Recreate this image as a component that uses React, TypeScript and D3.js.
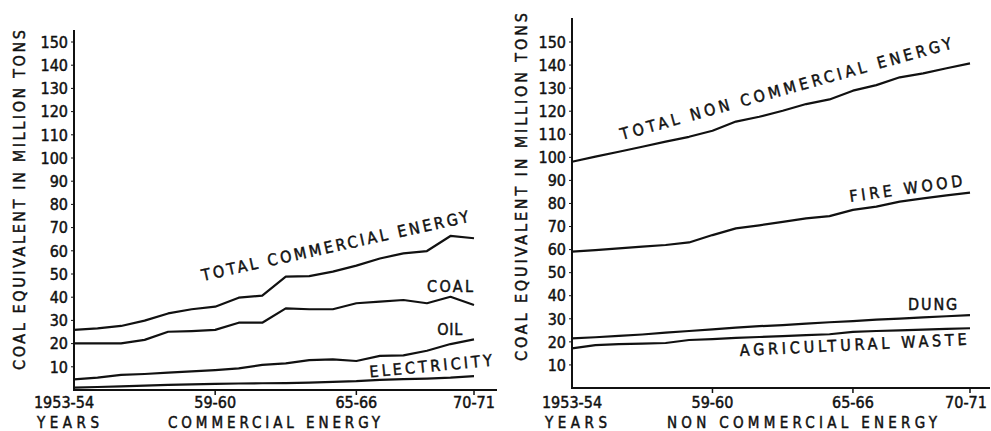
import * as d3 from "d3";
import React, { useRef, useEffect } from "react";

const years = [
    "1953-54", "1954-55", "1955-56", "1956-57", "1957-58", "1958-59",
    "1959-60", "1960-61", "1961-62", "1962-63", "1963-64", "1964-65",
    "1965-66", "1966-67", "1967-68", "1968-69", "1969-70", "1970-71",
];
const xTickIdx = [0, 6, 12, 17];
const xTickLabels = ["1953-54", "59-60", "65-66", "70-71"];
const yTicks = [10, 20, 30, 40, 50, 60, 70, 80, 90, 100, 110, 120, 130, 140, 150];

// commercial energy, million tons coal equivalent
const totalCommercial = [25.9, 26.6, 27.6, 29.9, 33.0, 34.8, 35.9, 39.8, 40.7, 48.9, 49.1, 51.0, 53.6, 56.7, 58.9, 59.9, 66.4, 65.4];
const coal = [20.1, 20.1, 20.1, 21.6, 25.1, 25.4, 25.9, 29.0, 29.0, 35.2, 34.8, 34.8, 37.4, 38.1, 38.8, 37.4, 40.2, 36.6];
const oil = [4.6, 5.3, 6.5, 6.9, 7.5, 8.0, 8.6, 9.3, 10.8, 11.5, 12.9, 13.2, 12.5, 14.7, 14.9, 16.9, 19.8, 21.8];
const electricity = [1.0, 1.3, 1.6, 1.9, 2.2, 2.4, 2.6, 2.8, 2.9, 3.0, 3.2, 3.5, 3.8, 4.4, 4.7, 4.9, 5.3, 6.0];

// non commercial energy
const totalNonCommercial = [98.1, 100.3, 102.4, 104.6, 106.8, 108.9, 111.5, 115.5, 117.6, 120.2, 123.1, 125.1, 128.9, 131.3, 134.7, 136.4, 138.6, 140.7];
const fireWood = [59.1, 59.8, 60.5, 61.3, 62.0, 63.1, 66.3, 69.2, 70.5, 72.0, 73.5, 74.5, 77.2, 78.6, 80.8, 82.2, 83.5, 84.7];
const dung = [21.5, 22.0, 22.6, 23.2, 24.0, 24.7, 25.4, 26.2, 26.8, 27.3, 27.9, 28.5, 29.0, 29.6, 30.1, 30.6, 31.1, 31.6];
const agriWaste = [17.2, 18.6, 19.0, 19.2, 19.5, 20.8, 21.2, 21.7, 22.1, 22.5, 22.9, 23.3, 24.3, 24.7, 25.0, 25.3, 25.6, 25.9];

const FONT = "'DejaVu Sans Condensed', 'DejaVu Sans', sans-serif";

const panels = [
    {
        left: 74, right: 474, bottom: 390, top150: 42, axisTop: 30, axisEnd: 497,
        tickDx: [-10, 0, 0, 0],
        series: [totalCommercial, coal, oil, electricity],
        labels: [
            { text: "TOTAL COMMERCIAL ENERGY", i: 5.48, v: 47, rot: -12.5, len: 273, anchor: "start" },
            { text: "COAL", i: 16.96, v: 42.2, rot: 0, len: 46, anchor: "end" },
            { text: "OIL", i: 16.5, v: 23.7, rot: 0, len: 25, anchor: "end" },
            { text: "ELECTRICITY", i: 12.58, v: 5.4, rot: -5.5, len: 123, anchor: "start" },
        ],
        titleX: 19, titleY: 200, titleLen: 340,
        yearsX: 68, subX: 274, subText: "COMMERCIAL ENERGY", subLen: 212,
    },
    {
        left: 572, right: 970, bottom: 388, top150: 42, axisTop: 18, axisEnd: 990,
        tickDx: [0, 0, 0, -4],
        series: [totalNonCommercial, fireWood, dung, agriWaste],
        labels: [
            { text: "TOTAL NON COMMERCIAL ENERGY", i: 2.14, v: 107.5, rot: -15.5, len: 343, anchor: "start" },
            { text: "FIRE WOOD", i: 11.88, v: 80.6, rot: -8, len: 114, anchor: "start" },
            { text: "DUNG", i: 16.45, v: 33.8, rot: 0, len: 49, anchor: "end" },
            { text: "AGRICULTURAL WASTE", i: 7.18, v: 13.9, rot: -2.8, len: 227, anchor: "start" },
        ],
        titleX: 521, titleY: 187, titleLen: 348,
        yearsX: 576, subX: 802, subText: "NON COMMERCIAL ENERGY", subLen: 270,
    },
];

function App() {
    const ref = useRef<SVGSVGElement>(null);

    useEffect(() => {
        const svg = d3.select(ref.current);
        svg.selectAll("*").remove();

        panels.forEach((p) => {
            const x = d3.scaleLinear().domain([0, years.length - 1]).range([p.left, p.right]);
            const y = d3.scaleLinear().domain([0, 150]).range([p.bottom, p.top150]);
            const g = svg
                .append("g")
                .style("font-family", FONT)
                .attr("fill", "#111");
            // slight stroke on the glyphs to get the heavier stencil look
            const txt = () =>
                g.append("text")
                    .attr("font-size", 16)
                    .attr("stroke", "#111")
                    .attr("stroke-width", 0.45);

            // axes
            g.append("line")
                .attr("x1", p.left).attr("x2", p.left)
                .attr("y1", p.axisTop).attr("y2", p.bottom)
                .attr("stroke", "#111").attr("stroke-width", 2);
            g.append("line")
                .attr("x1", p.left - 1).attr("x2", p.axisEnd)
                .attr("y1", p.bottom).attr("y2", p.bottom)
                .attr("stroke", "#111").attr("stroke-width", 2);

            yTicks.forEach((t) => {
                g.append("line")
                    .attr("x1", p.left - 3).attr("x2", p.left)
                    .attr("y1", y(t)).attr("y2", y(t))
                    .attr("stroke", "#111").attr("stroke-width", 1);
                txt()
                    .attr("x", p.left - 6).attr("y", y(t))
                    .attr("dy", "0.36em")
                    .attr("text-anchor", "end")
                    .text(t);
            });

            xTickIdx.forEach((idx, k) => {
                if (idx > 0) {
                    g.append("line")
                        .attr("x1", x(idx)).attr("x2", x(idx))
                        .attr("y1", p.bottom).attr("y2", p.bottom + 5)
                        .attr("stroke", "#111").attr("stroke-width", 1.5);
                }
                txt()
                    .attr("x", x(idx) + p.tickDx[k])
                    .attr("y", 408)
                    .attr("text-anchor", "middle")
                    .text(xTickLabels[k]);
            });

            // series lines
            const line = d3
                .line<number>()
                .x((d, i) => x(i))
                .y((d) => y(d));
            p.series.forEach((s) => {
                g.append("path")
                    .attr("d", line(s))
                    .attr("fill", "none")
                    .attr("stroke", "#111")
                    .attr("stroke-width", 2.2)
                    .attr("stroke-linejoin", "round");
            });

            // series names
            p.labels.forEach((l) => {
                txt()
                    .attr("transform", `translate(${x(l.i)},${y(l.v)}) rotate(${l.rot})`)
                    .attr("text-anchor", l.anchor)
                    .attr("textLength", l.len)
                    .attr("lengthAdjust", "spacing")
                    .text(l.text);
            });

            // y title
            txt()
                .attr("transform", `translate(${p.titleX},${p.titleY}) rotate(-90)`)
                .attr("dy", "0.36em")
                .attr("text-anchor", "middle")
                .attr("textLength", p.titleLen)
                .attr("lengthAdjust", "spacing")
                .text("COAL EQUIVALENT IN MILLION TONS");

            // bottom titles
            txt()
                .attr("x", p.yearsX).attr("y", 427.5)
                .attr("text-anchor", "middle")
                .attr("font-size", 15)
                .attr("textLength", 62)
                .attr("lengthAdjust", "spacing")
                .text("YEARS");
            txt()
                .attr("x", p.subX).attr("y", 427.5)
                .attr("text-anchor", "middle")
                .attr("font-size", 15)
                .attr("textLength", p.subLen)
                .attr("lengthAdjust", "spacing")
                .text(p.subText);
        });
    }, []);

    return (
        <svg
            ref={ref}
            width={991}
            height={431}
            style={{ position: "absolute", left: 0, top: 0, background: "#fff" }}
        ></svg>
    );
}

export default App;
